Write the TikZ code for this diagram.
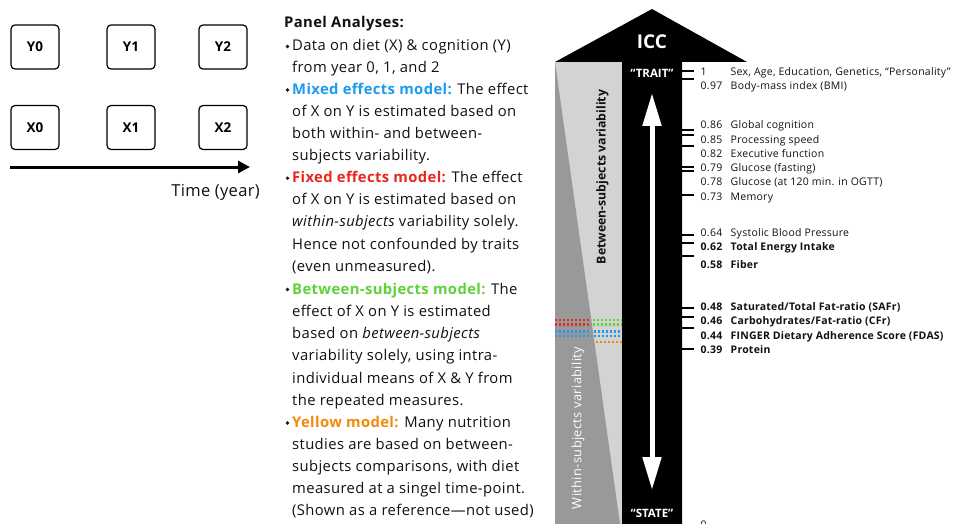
\documentclass[tikz,border=0pt]{standalone}
\usepackage{fontspec}
\setmainfont{Open Sans}
\usetikzlibrary{arrows.meta}
\definecolor{cblue}{HTML}{1E9BF0}
\definecolor{cred}{HTML}{E8281E}
\definecolor{cgreen}{HTML}{5ED23A}
\definecolor{corange}{HTML}{F28A0A}
\definecolor{lgray}{HTML}{D3D3D3}
\definecolor{dgray}{HTML}{999999}
\definecolor{txt}{HTML}{111111}
\begin{document}
\begin{tikzpicture}[x=1pt,y=-1pt,
  boxst/.style={draw=black, line width=1.2pt, rounded corners=4pt, minimum width=48pt, minimum height=44pt, inner sep=0pt, font=\bfseries\fontsize{13.5}{16}\selectfont},
  ptxt/.style={anchor=base west, inner sep=0pt, font=\fontsize{14.8}{17}\selectfont\addfontfeature{LetterSpace=2.6}, text=txt},
  bul/.style={fill=txt, circle, inner sep=0pt, minimum size=3.6pt},
  lab/.style={anchor=base west, inner sep=0pt, font=\fontsize{10.5}{12}\selectfont\addfontfeature{LetterSpace=2.5}, text=txt},
  blab/.style={lab, font=\bfseries\fontsize{10.5}{12}\selectfont\addfontfeature{LetterSpace=2}},
  tick/.style={line width=1.3pt},
  dots/.style={line width=2.4pt, dash pattern=on 2pt off 2pt},
  wtxt/.style={text=white, inner sep=0pt}
]
\useasboundingbox (0,0) rectangle (953,524);
\fill[white] (0,0) rectangle (953,524);

% ---------- left: boxes ----------
\node[boxst] (Y0) at (35,47) {Y0};
\node[boxst] (Y1) at (131,47) {Y1};
\node[boxst] (Y2) at (223,47) {Y2};
\node[boxst] (X0) at (35,127.5) {X0};
\node[boxst] (X1) at (131,127.5) {X1};
\node[boxst] (X2) at (223,127.5) {X2};
\coordinate (t0) at (10,167);
\coordinate (t1) at (250,167);
\draw[line width=3pt, -{Triangle[length=12pt,width=12pt]}] (t0) -- (t1);
\node[anchor=base east, inner sep=0pt, font=\fontsize{16.5}{18}\selectfont\addfontfeature{LetterSpace=2}, text=txt] (time) at (260,196) {Time (year)};

% ---------- middle: text ----------
\node[ptxt] (p0) at (284,28) {\bfseries Panel Analyses:};
\node[bul] (b1) at (287.5,46.5) {};
\node[ptxt] (p1) at (292,51) {Data on diet (X) \& cognition (Y)};
\node[ptxt] (p2) at (292,72.5) {from year 0, 1, and 2};
\node[bul] (b3) at (287.5,90) {};
\node[ptxt] (p3) at (292,94.5) {{\color{cblue}\bfseries Mixed effects model:} The effect};
\node[ptxt] (p4) at (292,116.5) {of X on Y is estimated based on};
\node[ptxt] (p5) at (292,138.5) {both within- and between-};
\node[ptxt] (p6) at (292,160.3) {subjects variability.};
\node[bul] (b7) at (287.5,178.2) {};
\node[ptxt] (p7) at (292,182.7) {{\color{cred}\bfseries Fixed effects model:} The effect};
\node[ptxt] (p8) at (292,204.8) {of X on Y is estimated based on};
\node[ptxt] (p9) at (292,226.8) {\itshape within-subjects\upshape\ variability solely.};
\node[ptxt] (p10) at (292,249) {Hence not confounded by traits};
\node[ptxt] (p11) at (292,271.2) {(even unmeasured).};
\node[bul] (b12) at (287.5,289.5) {};
\node[ptxt] (p12) at (292,294) {{\color{cgreen}\bfseries Between-subjects model:} The};
\node[ptxt] (p13) at (292,316.3) {effect of X on Y is estimated};
\node[ptxt] (p14) at (292,338.5) {based on \itshape between-subjects};
\node[ptxt] (p15) at (292,360.7) {variability solely, using intra-};
\node[ptxt] (p16) at (292,383) {individual means of X \& Y from};
\node[ptxt] (p17) at (292,405.2) {the repeated measures.};
\node[bul] (b18) at (287.5,423) {};
\node[ptxt] (p18) at (292,427.5) {{\color{corange}\bfseries Yellow model:} Many nutrition};
\node[ptxt] (p19) at (292,449.5) {studies are based on between-};
\node[ptxt] (p20) at (292,471.7) {subjects comparisons, with diet};
\node[ptxt] (p21) at (292,493.7) {measured at a singel time-point.};
\node[ptxt] (p22) at (292,515.5) {(Shown as a reference—not used)};

% ---------- right: ICC house ----------
\fill[lgray] (555,62) rectangle (622,524);
\fill[dgray] (555,62) -- (620,524) -- (555,524) -- cycle;
\fill[black] (555,62) -- (652,9) -- (747,62) -- (682,62) -- (682,524) -- (622,524) -- (622,62) -- cycle;

% dotted model lines
\draw[dots, cred] (555,320) -- (591,320);
\draw[dots, cred] (555,324.5) -- (591,324.5);
\draw[dots, cgreen] (593,320) -- (622,320);
\draw[dots, cgreen] (593,324.5) -- (622,324.5);
\draw[dots, cblue] (555,331.5) -- (591,331.5);
\draw[dots, cblue] (555,336) -- (591,336);
\draw[dots, cblue] (594,331.5) -- (622,331.5);
\draw[dots, cblue] (594,336) -- (622,336);
\draw[dots, corange] (596,342) -- (622,342);

\node[rotate=90, inner sep=0pt, font=\bfseries\fontsize{12.3}{14}\selectfont, text=txt] (btw) at (602.5,177) {Between-subjects variability};
\node[rotate=90, wtxt, font=\fontsize{12.8}{14}\selectfont\addfontfeature{LetterSpace=3}] (wth) at (578,428) {Within-subjects variability};

\node[wtxt, font=\bfseries\fontsize{19}{20}\selectfont] (icc) at (652,42) {ICC};
\node[wtxt, font=\bfseries\fontsize{11.5}{14}\selectfont] (trait) at (652,73) {“TRAIT”};
\node[wtxt, font=\bfseries\fontsize{11.5}{14}\selectfont] (state) at (652,513) {“STATE”};

\coordinate (aup) at (652,93);
\coordinate (adn) at (652,490);
\draw[white, line width=5pt, {Triangle[length=33pt,width=18pt]}-{Triangle[length=33pt,width=18pt]}] (aup) -- (adn);

% ticks
\foreach \ty in {71,79,130,135,146,167,171,195,235,243,256,308,317,328,349}
  \draw[tick] (682,\ty) -- (694,\ty);

% labels
\node[lab] (v100) at (700.5,75.6) {\makebox[30pt][l]{1}Sex, Age, Education, Genetics, “Personality”};
\node[lab] (v097) at (700.5,89.6) {\makebox[30pt][l]{0.97}Body-mass index (BMI)};
\node[lab] (v086) at (700.5,128.6) {\makebox[30pt][l]{0.86}Global cognition};
\node[lab] (v085) at (700.5,143.3) {\makebox[30pt][l]{0.85}Processing speed};
\node[lab] (v082) at (700.5,157.6) {\makebox[30pt][l]{0.82}Executive function};
\node[lab] (v079) at (700.5,171.6) {\makebox[30pt][l]{0.79}Glucose (fasting)};
\node[lab] (v078) at (700.5,185.6) {\makebox[30pt][l]{0.78}Glucose (at 120 min. in OGTT)};
\node[lab] (v073) at (700.5,200.6) {\makebox[30pt][l]{0.73}Memory};
\node[lab] (v064) at (700.5,236.6) {\makebox[30pt][l]{0.64}Systolic Blood Pressure};
\node[blab] (v062) at (700.5,250.6) {\makebox[30pt][l]{0.62}Total Energy Intake};
\node[blab] (v058) at (700.5,268.3) {\makebox[30pt][l]{0.58}Fiber};
\node[blab] (v048) at (700.5,310.6) {\makebox[30pt][l]{0.48}Saturated/Total Fat-ratio (SAFr)};
\node[blab] (v046) at (700.5,324.6) {\makebox[30pt][l]{0.46}Carbohydrates/Fat-ratio (CFr)};
\node[blab] (v044) at (700.5,339.3) {\makebox[30pt][l]{0.44}FINGER Dietary Adherence Score (FDAS)};
\node[blab] (v039) at (700.5,353.6) {\makebox[30pt][l]{0.39}Protein};
\node[lab] (v000) at (700.5,528.5) {0};
\end{tikzpicture}
\end{document}
